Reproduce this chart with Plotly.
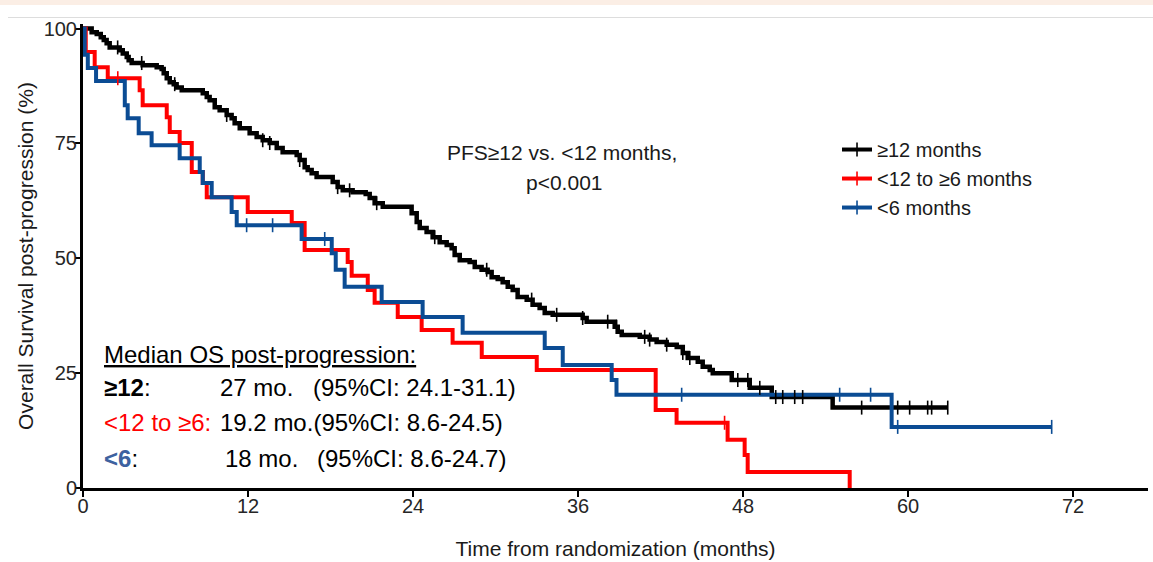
import numpy as np
import plotly.graph_objects as go

# ---------------- data (months, % surviving) ----------------
# PFS >= 12 months
ge12_times = [0.63, 1.00, 1.29, 1.51, 1.72, 1.94, 2.67, 2.89, 3.18, 3.32, 3.54, 4.34, 5.36, 5.72, 5.87,
              6.09, 6.31, 6.60, 6.81, 7.18, 8.71, 9.00, 9.21, 9.58, 9.94, 10.45, 10.81, 11.03, 11.40,
              12.12, 12.63, 13.07, 13.58, 14.09, 14.52, 15.54, 15.76, 16.12, 16.34, 16.63, 16.99,
              18.16, 18.52, 18.89, 19.61, 20.56, 20.85, 21.21, 21.80, 23.90, 24.27, 24.49, 24.99,
              25.43, 25.94, 26.45, 26.81, 27.03, 27.40, 28.12, 28.49, 28.99, 29.43, 29.72, 30.16,
              30.52, 30.89, 31.25, 31.61, 32.27, 32.70, 33.21, 33.58, 34.16, 36.34, 36.63, 38.67,
              38.89, 39.18, 40.49, 41.21, 41.72, 42.45, 43.18, 43.62, 43.98, 44.71, 45.07, 45.58,
              45.80, 47.18, 48.49, 50.09, 54.52]
ge12_surv = [99.2, 98.8, 98.1, 97.5, 96.8, 95.9, 95.3, 94.6, 93.8, 93.1, 92.5, 92.0, 91.6, 91.2, 90.3,
             89.2, 88.3, 87.9, 87.2, 86.6, 85.9, 85.1, 84.4, 82.9, 82.2, 81.2, 80.5, 79.4, 78.3,
             77.2, 76.4, 75.7, 75.1, 74.0, 73.1, 72.5, 71.4, 69.8, 69.2, 68.5, 67.7,
             66.6, 65.5, 64.8, 64.4, 64.0, 63.1, 62.0, 61.2, 59.8, 57.9, 56.6, 55.7,
             54.6, 53.5, 52.9, 52.2, 50.7, 49.6, 49.2, 48.1, 47.5, 47.0, 45.9, 45.5,
             44.8, 43.8, 43.1, 41.6, 41.0, 39.9, 39.2, 38.1, 37.7, 37.0, 36.2, 35.1,
             34.0, 33.3, 32.9, 32.3, 31.8, 31.2, 30.7, 29.4, 28.3, 27.5, 26.4, 25.7,
             25.0, 23.5, 21.8, 19.8, 17.5]
ge12_end = 62.89
ge12_censor = [2.52, 4.27, 6.67, 10.45, 13.07, 13.58, 15.76, 18.52, 19.39, 21.36, 25.58, 29.36,
               32.63, 34.45, 36.34, 38.16, 38.81, 40.85, 41.21, 42.45, 43.62, 44.13, 47.62, 48.35,
               49.22, 50.38, 50.89, 51.76, 52.34, 56.63, 59.25, 60.12, 61.43, 61.72, 62.89]

# PFS <12 to >=6 months
mid_times = [0.20, 0.85, 1.80, 4.12, 4.34, 6.09, 6.31, 7.03, 7.91, 8.71, 9.00, 11.98, 15.18, 16.12,
             19.25, 19.54, 20.71, 21.21, 22.89, 24.63, 26.88, 29.00, 33.00, 41.65, 43.17, 46.88,
             48.12, 48.34, 55.76]
mid_surv = [94.9, 91.6, 89.2, 86.6, 83.3, 80.7, 77.5, 75.1, 68.8, 66.4, 63.3, 60.1, 57.7, 51.8,
            49.2, 46.2, 43.1, 40.3, 37.2, 34.4, 31.6, 28.5, 25.7, 17.0, 14.2, 10.5,
            7.2, 3.5, 0.0]
mid_end = 55.76
mid_censor = [2.53, 46.66]

# PFS <6 months
lt6_times = [0.12, 0.35, 0.95, 3.04, 3.25, 4.05, 4.99, 7.03, 8.49, 8.71, 9.36, 10.81, 11.18, 15.90,
             18.09, 18.38, 19.03, 21.72, 24.70, 27.61, 33.58, 34.89, 38.45, 38.80, 58.81]
lt6_surv = [94.3, 91.4, 88.6, 83.3, 80.5, 77.2, 74.6, 71.8, 68.8, 66.4, 63.3, 60.1, 57.2, 54.2,
            51.1, 47.5, 43.8, 40.5, 37.2, 33.8, 30.5, 26.8, 23.5, 20.3, 13.3]
lt6_end = 70.45
lt6_censor = [11.90, 13.79, 17.58, 43.54, 55.03, 57.28, 59.25, 70.45]

group_names = ["≥12 months", "<12 to ≥6 months", "<6 months"]
x_ticks = [0, 12, 24, 36, 48, 60, 72]
y_ticks = [0, 25, 50, 75, 100]

BLACK = "#000000"
RED = "#FF0000"
BLUE = "#0B4C94"
BLUE_TXT = "#3D62A0"
FONT = "Liberation Sans, Arial, sans-serif"


def km_xy(times, surv, end):
    x = [0.0] + list(times) + [end]
    y = [100.0] + list(surv) + [surv[-1]]
    return x, y


def surv_at(times, surv, pts):
    levels = np.array([100.0] + list(surv))
    idx = np.searchsorted(np.array(times), np.array(pts), side="right")
    return levels[idx]


groups = [
    (ge12_times, ge12_surv, ge12_end, ge12_censor, BLACK, 4.5),
    (mid_times, mid_surv, mid_end, mid_censor, RED, 4),
    (lt6_times, lt6_surv, lt6_end, lt6_censor, BLUE, 4),
]

fig = go.Figure()

for (tm, sv, en, ce, col, w), name in zip(groups, group_names):
    x, y = km_xy(tm, sv, en)
    fig.add_trace(go.Scatter(x=x, y=y, mode="lines", line=dict(shape="hv", color=col, width=w),
                             showlegend=False, hoverinfo="skip", name=name))

for (tm, sv, en, ce, col, w), name in zip(groups, group_names):
    fig.add_trace(go.Scatter(x=ce, y=surv_at(tm, sv, ce), mode="markers",
                             marker=dict(symbol="line-ns", size=10, color=col,
                                         line=dict(color=col, width=1.6)),
                             showlegend=False, hoverinfo="skip", name=name))

for (tm, sv, en, ce, col, w), name in zip(groups, group_names):
    fig.add_trace(go.Scatter(x=[None], y=[None], mode="lines+markers", name=name,
                             line=dict(color=col, width=4),
                             marker=dict(symbol="line-ns", size=10, color=col,
                                         line=dict(color=col, width=1.6))))

# text block
tf = dict(family=FONT, size=24, color="black")
ann = []
ann.append(dict(x=1.36, y=29.0, xref="x", yref="y", xanchor="left", yanchor="middle",
                text="<u>Median OS post-progression:</u>", showarrow=False, font=tf))
ann.append(dict(x=1.36, y=21.9, xref="x", yref="y", xanchor="left", yanchor="middle",
                text="<b>≥12</b>:", showarrow=False, font=tf))
ann.append(dict(x=9.81, y=21.9, xref="x", yref="y", xanchor="left", yanchor="middle",
                text="27 mo.", showarrow=False, font=tf))
ann.append(dict(x=16.6, y=21.9, xref="x", yref="y", xanchor="left", yanchor="middle",
                text="(95%CI: 24.1-31.1)", showarrow=False, font=tf))
ann.append(dict(x=1.36, y=14.3, xref="x", yref="y", xanchor="left", yanchor="middle",
                text="&lt;12 to ≥6:", showarrow=False, font=dict(family=FONT, size=24, color=RED)))
ann.append(dict(x=9.81, y=14.3, xref="x", yref="y", xanchor="left", yanchor="middle",
                text="19.2 mo.(95%CI: 8.6-24.5)", showarrow=False, font=tf))
ann.append(dict(x=1.36, y=6.4, xref="x", yref="y", xanchor="left", yanchor="middle",
                text="<span style='color:%s'><b>&lt;6</b></span>:" % BLUE_TXT, showarrow=False, font=tf))
ann.append(dict(x=10.15, y=6.4, xref="x", yref="y", xanchor="left", yanchor="middle",
                text="18 mo.", showarrow=False, font=tf))
ann.append(dict(x=16.85, y=6.4, xref="x", yref="y", xanchor="left", yanchor="middle",
                text="(95%CI: 8.6-24.7)", showarrow=False, font=tf))
pf = dict(family=FONT, size=21, color="#1a1a1a")
ann.append(dict(x=34.8, y=73.1, xref="x", yref="y", xanchor="center", yanchor="middle",
                text="PFS≥12 vs. &lt;12 months,", showarrow=False, font=pf))
ann.append(dict(x=35.0, y=66.6, xref="x", yref="y", xanchor="center", yanchor="middle",
                text="p&lt;0.001", showarrow=False, font=pf))

W, H = 1153, 562
ml, mr, mt, mb = 83, 5, 24, 74
pw, ph = W - ml - mr, H - mt - mb

shapes = [
    dict(type="rect", xref="paper", yref="paper", x0=-ml / pw, x1=1 + mr / pw,
         y0=1 + (mt - 5) / ph, y1=1 + mt / ph, fillcolor="#FBEEE5", line=dict(width=0), layer="below"),
    dict(type="line", xref="paper", yref="paper", x0=(8 - ml) / pw, x1=1 + mr / pw,
         y0=1 + (mt - 17.5) / ph, y1=1 + (mt - 17.5) / ph, line=dict(color="#DDDDDD", width=1)),
]

fig.update_layout(
    width=W, height=H, template="none",
    margin=dict(l=ml, r=mr, t=mt, b=mb, autoexpand=False),
    paper_bgcolor="white", plot_bgcolor="white",
    font=dict(family=FONT, color="#222222"),
    showlegend=True,
    legend=dict(x=0.708, y=0.7715, xanchor="left", yanchor="top", bgcolor="rgba(0,0,0,0)",
                font=dict(family=FONT, size=20, color="#1a1a1a"), itemwidth=30),
    annotations=ann, shapes=shapes,
)
fig.update_xaxes(range=[0, pw / 13.75], tickvals=x_ticks, ticktext=[str(v) for v in x_ticks],
                 showline=True, linecolor="black", linewidth=3, mirror=False,
                 ticks="outside", ticklen=6, tickwidth=2, tickcolor="black",
                 showgrid=False, zeroline=False, automargin=False, ticklabelstandoff=-8,
                 tickfont=dict(family=FONT, size=20, color="#262626"),
                 title=dict(text="Time from randomization (months)",
                            font=dict(family=FONT, size=21, color="#1a1a1a"), standoff=26))
fig.update_yaxes(range=[0, 101], tickvals=y_ticks, ticktext=[str(v) for v in y_ticks],
                 showline=True, linecolor="black", linewidth=3, mirror=False,
                 ticks="outside", ticklen=5, tickwidth=2, tickcolor="black",
                 showgrid=False, zeroline=False, automargin=False, ticklabelstandoff=-6,
                 tickfont=dict(family=FONT, size=20, color="#262626"),
                 title=dict(text="Overall Survival post-progression (%)",
                            font=dict(family=FONT, size=21, color="#1a1a1a"), standoff=5))

fig.write_html("out.html", config={"displayModeBar": False},
               post_script="document.body.style.margin='0px';")
